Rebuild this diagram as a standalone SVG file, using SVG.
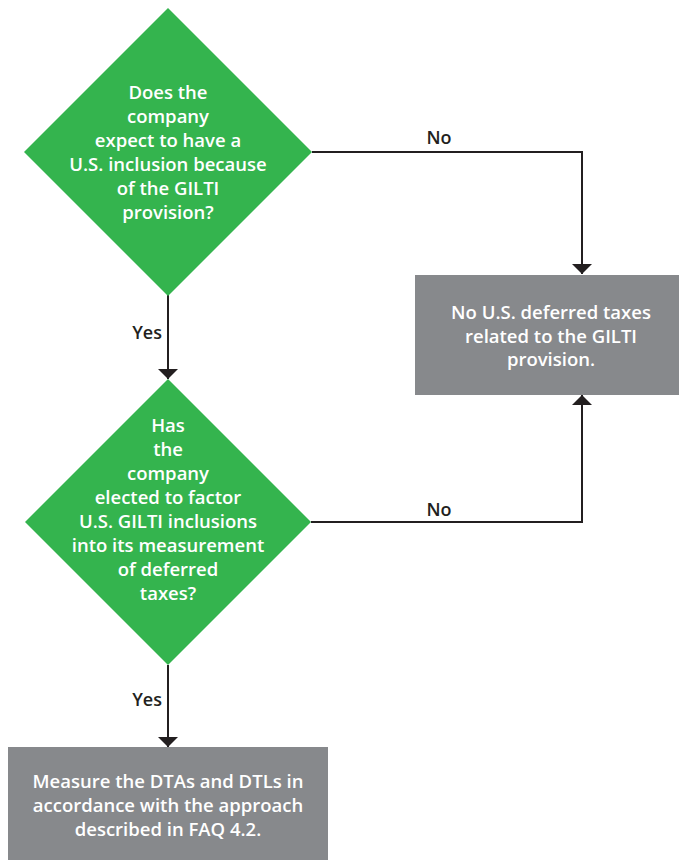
<svg xmlns="http://www.w3.org/2000/svg" width="679" height="860" viewBox="0 0 679 860">
<style>
.dia{fill:#34B44E}
.box{fill:#87898C}
.t{font-family:"Open Sans","Liberation Sans",sans-serif;font-size:18.5px;font-weight:600;fill:#fff;text-anchor:middle}
.lbl{font-family:"Open Sans","Liberation Sans",sans-serif;font-size:18px;font-weight:600;fill:#231F20}
.ln{fill:none;stroke:#231F20;stroke-width:2}
</style>
<defs>
<marker id="ah" viewBox="0 0 10 20" refX="10" refY="10" markerWidth="10" markerHeight="20" markerUnits="userSpaceOnUse" orient="auto">
<path d="M0,0 L10,10 L0,20 Z" fill="#231F20"/>
</marker>
</defs>
<rect width="679" height="860" fill="#fff"/>
<g id="connectors">
<polyline class="ln" points="312,152 582,152 582,274" marker-end="url(#ah)"/>
<polyline class="ln" points="311,522 582,522 582,395" marker-end="url(#ah)"/>
<line class="ln" x1="168" y1="295" x2="168" y2="379" marker-end="url(#ah)"/>
<line class="ln" x1="168" y1="665" x2="168" y2="747" marker-end="url(#ah)"/>
<text class="lbl" x="439" y="144" text-anchor="middle">No</text>
<text class="lbl" x="439" y="516" text-anchor="middle">No</text>
<text class="lbl" x="162" y="339" text-anchor="end">Yes</text>
<text class="lbl" x="162" y="706" text-anchor="end">Yes</text>
</g>
<g id="q1">
<polygon class="dia" points="168,8 312,152 168,296 24,152"/>
<text class="t"><tspan x="168" y="99">Does the</tspan><tspan x="168" y="123">company</tspan><tspan x="168" y="147">expect to have a</tspan><tspan x="168" y="171">U.S. inclusion because</tspan><tspan x="168" y="195">of the GILTI</tspan><tspan x="168" y="219">provision?</tspan></text>
</g>
<g id="q2">
<polygon class="dia" points="168,379 311,522 168,665 25,522"/>
<text class="t"><tspan x="168" y="432">Has</tspan><tspan x="168" y="456">the</tspan><tspan x="168" y="480">company</tspan><tspan x="168" y="504">elected to factor</tspan><tspan x="168" y="528">U.S. GILTI inclusions</tspan><tspan x="168" y="552">into its measurement</tspan><tspan x="168" y="576">of deferred</tspan><tspan x="168" y="600">taxes?</tspan></text>
</g>
<g id="noTaxes">
<rect class="box" x="415" y="275" width="264" height="120"/>
<text class="t"><tspan x="551" y="319">No U.S. deferred taxes</tspan><tspan x="551" y="343">related to the GILTI</tspan><tspan x="551" y="366">provision.</tspan></text>
</g>
<g id="measure">
<rect class="box" x="8" y="747" width="320" height="113"/>
<text class="t"><tspan x="168" y="788">Measure the DTAs and DTLs in</tspan><tspan x="168" y="812">accordance with the approach</tspan><tspan x="168" y="836">described in FAQ 4.2.</tspan></text>
</g>
</svg>
